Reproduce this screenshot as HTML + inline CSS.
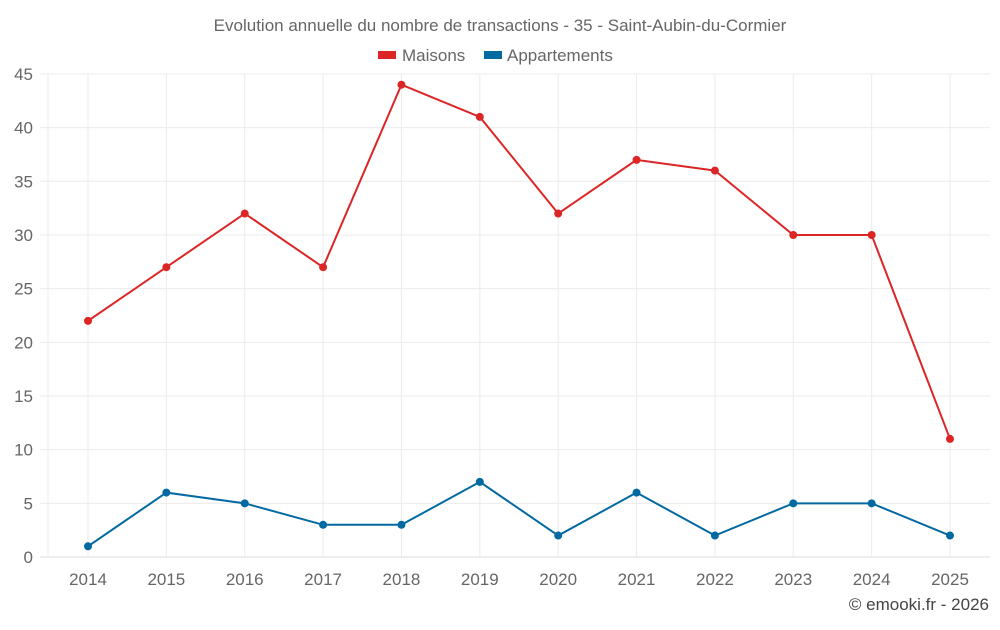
<!DOCTYPE html>
<html><head><meta charset="utf-8">
<style>
body{margin:0;background:#fff;font-family:"Liberation Sans",sans-serif;}
svg text{font-family:"Liberation Sans",sans-serif;fill:#666;}
</style></head>
<body>
<svg id="chart" width="1000" height="625" xmlns="http://www.w3.org/2000/svg">
<text x="500" y="31" font-size="17" text-anchor="middle">Evolution annuelle du nombre de transactions - 35 - Saint-Aubin-du-Cormier</text>
<g>
<g><rect x="378" y="51" width="18" height="8" fill="#dc2626"/><text x="402" y="61" font-size="17">Maisons</text></g>
<g><rect x="484" y="51" width="18" height="8" fill="#0369a1"/><text x="507" y="61" font-size="17">Appartements</text></g>
</g>
<g id="grid"></g><g id="axes"></g><g id="series"></g>
<text x="989" y="610" font-size="17" text-anchor="end" style="fill:#444">© emooki.fr - 2026</text>
</svg>
<script>
const years=["2014","2015","2016","2017","2018","2019","2020","2021","2022","2023","2024","2025"];
const maisons=[22,27,32,27,44,41,32,37,36,30,30,11];
const appartements=[1,6,5,3,3,7,2,6,2,5,5,2];
const yTicks=[0,5,10,15,20,25,30,35,40,45];
const NS="http://www.w3.org/2000/svg";
const L=48,R=990,T=74,B=557,yMax=45;
const x=i=>88+i*(950-88)/(years.length-1);
const y=v=>B-(v/yMax)*(B-T);
function mk(tag,attrs,parent){const e=document.createElementNS(NS,tag);for(const k in attrs)e.setAttribute(k,attrs[k]);parent.appendChild(e);return e;}
const grid=document.getElementById('grid'),axes=document.getElementById('axes'),ser=document.getElementById('series');
yTicks.forEach(t=>{
const l=mk('line',{x1:40,x2:R,y1:y(t),y2:y(t),stroke:t===0?'#ddd':'#ebebeb','stroke-width':1},grid);


const tx=mk('text',{x:33,y:y(t)+6,'font-size':17,'text-anchor':'end'},axes);
tx.textContent=t;


});
mk('line',{x1:L,x2:L,y1:T,y2:B,stroke:'#ebebeb'},grid);
years.forEach((yr,i)=>{
const l=mk('line',{x1:x(i),x2:x(i),y1:T,y2:B,stroke:'#ebebeb'},grid);


const tx=mk('text',{x:x(i),y:585,'font-size':17,'text-anchor':'middle'},axes);
tx.textContent=yr;


});
function draw(data,color,name){
const p=mk('polyline',{points:data.map((v,i)=>x(i)+','+y(v)).join(' '),fill:'none',stroke:color,'stroke-width':2},ser);


data.forEach((v,i)=>{
const c=mk('circle',{cx:x(i),cy:y(v),r:4,fill:color},ser);


});
}
draw(maisons,'#dc2626','maisons');
draw(appartements,'#0369a1','appartements');
</script>
</body></html>
